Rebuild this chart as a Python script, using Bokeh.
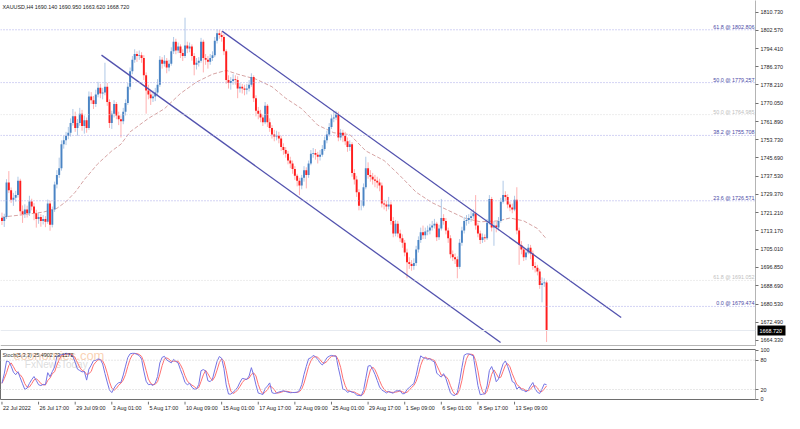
import numpy as np
import pandas as pd
from bokeh.plotting import figure
from bokeh.layouts import column
from bokeh.models import (Range1d, FixedTicker, PrintfTickFormatter, Span, ColumnDataSource,
                          LinearAxis, AllLabels)
from bokeh.core.properties import value
from bokeh.embed import file_html
from bokeh.resources import INLINE

# ---------------- data (XAUUSD H4) ----------------
first_open = 1719.0
closes = [
    1717.6, 1719.3, 1734.7, 1731.3, 1727.0, 1727.9, 1729.1, 1735.5, 1721.9, 1720.6,
    1722.7, 1721.0, 1726.2, 1724.0, 1721.0, 1718.5, 1719.3, 1717.6, 1718.5, 1717.2,
    1725.3, 1715.9, 1722.7, 1733.8, 1738.1, 1741.1, 1751.8, 1753.5, 1755.6, 1756.9,
    1761.2, 1764.2, 1759.0, 1761.2, 1765.4, 1759.9, 1762.5, 1759.0, 1773.1, 1771.4,
    1769.7, 1774.0, 1777.0, 1774.4, 1774.8, 1777.4, 1770.6, 1761.2, 1765.4, 1769.7,
    1764.6, 1762.9, 1762.0, 1766.3, 1770.2, 1777.4, 1784.3, 1789.4, 1792.0, 1791.1,
    1791.5, 1790.2, 1782.5, 1775.7, 1774.0, 1772.3, 1773.1, 1774.8, 1778.3, 1789.4,
    1787.7, 1789.0, 1786.0, 1787.7, 1793.2, 1797.5, 1793.6, 1795.4, 1792.4, 1791.1,
    1795.8, 1794.5, 1795.4, 1791.1, 1787.2, 1788.1, 1789.0, 1797.5, 1790.2, 1789.4,
    1788.5, 1790.2, 1791.5, 1797.9, 1801.3, 1800.5, 1799.6, 1793.2, 1780.4, 1779.1,
    1780.0, 1780.8, 1780.4, 1776.6, 1777.4, 1776.6, 1776.1, 1776.6, 1778.3, 1781.7,
    1772.3, 1766.7, 1765.4, 1763.7, 1761.6, 1768.9, 1761.6, 1759.0, 1756.1, 1755.2,
    1755.6, 1754.3, 1750.5, 1749.2, 1747.5, 1744.5, 1743.2, 1740.7, 1737.7, 1735.5,
    1733.4, 1736.8, 1740.2, 1738.1, 1743.2, 1747.5, 1747.9, 1747.1, 1746.2, 1747.1,
    1749.6, 1753.5, 1756.1, 1759.5, 1763.3, 1763.7, 1765.0, 1754.8, 1756.9, 1755.6,
    1753.1, 1750.5, 1751.8, 1739.0, 1736.0, 1730.4, 1724.4, 1724.4, 1732.6, 1741.1,
    1738.1, 1737.3, 1736.0, 1735.5, 1734.7, 1733.4, 1725.3, 1724.9, 1724.0, 1724.9,
    1717.6, 1712.0, 1716.3, 1712.0, 1709.9, 1707.8, 1703.5, 1699.2, 1698.4, 1697.5,
    1698.8, 1704.8, 1709.1, 1712.5, 1711.2, 1712.9, 1713.3, 1714.6, 1715.5, 1716.3,
    1710.3, 1714.2, 1718.9, 1717.6, 1713.3, 1709.9, 1702.7, 1701.4, 1700.5, 1697.1,
    1707.8, 1713.3, 1717.6, 1718.0, 1718.9, 1719.7, 1721.0, 1715.5, 1712.0, 1709.1,
    1710.3, 1709.9, 1716.8, 1727.4, 1714.6, 1715.5, 1714.6, 1717.6, 1726.1, 1729.1,
    1728.3, 1724.9, 1723.6, 1722.7, 1727.0, 1713.3, 1706.9, 1704.8, 1701.4, 1703.5,
    1705.6, 1703.1, 1697.5, 1696.7, 1695.0, 1689.0, 1689.8, 1690.14, 1668.72,
]
highs = [
    1721.3, 1720.8, 1736.2, 1739.8, 1732.5, 1730.1, 1731.0, 1737.3, 1736.4, 1724.5,
    1725.0, 1724.4, 1728.8, 1727.5, 1725.5, 1722.6, 1721.4, 1720.6, 1720.2, 1719.7,
    1727.1, 1726.6, 1724.0, 1735.1, 1740.2, 1745.8, 1753.5, 1755.6, 1757.3, 1759.5,
    1763.3, 1767.5, 1766.3, 1763.0, 1768.0, 1767.1, 1764.6, 1763.7, 1775.3, 1775.0,
    1773.3, 1776.1, 1779.6, 1778.7, 1776.9, 1788.1, 1779.1, 1771.8, 1766.7, 1771.4,
    1770.6, 1766.3, 1764.6, 1768.0, 1771.8, 1779.1, 1786.0, 1791.1, 1794.1, 1793.2,
    1793.6, 1792.8, 1791.5, 1783.8, 1778.3, 1776.1, 1775.7, 1776.9, 1780.8, 1791.1,
    1790.6, 1791.5, 1790.2, 1789.4, 1795.0, 1799.6, 1798.8, 1797.1, 1796.3, 1794.1,
    1808.2, 1797.5, 1797.1, 1796.3, 1792.4, 1790.2, 1790.6, 1799.2, 1798.4, 1792.0,
    1791.1, 1792.0, 1793.2, 1799.6, 1803.0, 1802.8, 1802.2, 1800.9, 1794.1, 1782.5,
    1781.7, 1783.0, 1782.5, 1782.1, 1779.1, 1778.7, 1778.3, 1778.7, 1780.4, 1783.4,
    1782.5, 1773.6, 1768.4, 1767.1, 1765.0, 1770.6, 1769.7, 1763.3, 1760.3, 1758.2,
    1757.8, 1757.3, 1755.6, 1752.2, 1750.5, 1748.8, 1746.2, 1744.5, 1742.0, 1738.6,
    1736.8, 1738.1, 1742.0, 1741.5, 1744.5, 1749.2, 1750.1, 1749.6, 1748.4, 1749.2,
    1751.4, 1755.2, 1757.8, 1761.2, 1765.0, 1766.3, 1766.7, 1766.3, 1758.6, 1758.2,
    1757.3, 1754.8, 1753.5, 1752.7, 1740.7, 1737.7, 1731.7, 1726.6, 1734.3, 1746.2,
    1743.7, 1740.2, 1739.0, 1738.1, 1737.3, 1736.4, 1734.7, 1727.0, 1726.6, 1728.3,
    1726.2, 1719.3, 1718.0, 1717.6, 1713.7, 1711.6, 1709.1, 1705.2, 1701.4, 1700.1,
    1700.9, 1706.5, 1710.7, 1714.6, 1715.5, 1714.6, 1715.5, 1716.3, 1717.6, 1718.5,
    1717.2, 1715.9, 1727.4, 1720.6, 1718.9, 1714.6, 1711.2, 1704.4, 1703.1, 1701.8,
    1709.5, 1715.0, 1719.3, 1720.2, 1720.6, 1721.9, 1722.7, 1729.1, 1716.8, 1713.3,
    1712.0, 1711.6, 1718.5, 1729.1, 1728.3, 1717.6, 1717.2, 1719.3, 1727.9, 1735.5,
    1730.8, 1729.5, 1726.2, 1725.3, 1728.8, 1732.6, 1714.6, 1708.6, 1706.1, 1705.2,
    1707.3, 1706.9, 1704.4, 1699.2, 1698.0, 1696.2, 1692.4, 1692.0, 1690.95,
]
lows = [
    1715.8, 1714.9, 1718.4, 1730.0, 1725.6, 1724.3, 1726.2, 1728.0, 1720.1, 1716.7,
    1718.9, 1719.1, 1719.8, 1722.3, 1717.9, 1714.6, 1716.3, 1715.0, 1716.0, 1714.8,
    1716.3, 1713.2, 1714.7, 1721.6, 1732.1, 1736.8, 1740.0, 1749.8, 1751.4, 1754.0,
    1755.2, 1760.1, 1757.3, 1755.6, 1760.0, 1757.8, 1756.5, 1756.9, 1758.2, 1769.7,
    1767.5, 1768.4, 1772.7, 1772.3, 1771.8, 1773.6, 1768.9, 1759.0, 1758.6, 1763.7,
    1762.9, 1760.3, 1754.8, 1760.7, 1764.6, 1769.3, 1776.1, 1783.0, 1788.1, 1788.5,
    1789.4, 1788.1, 1780.4, 1765.4, 1771.8, 1769.3, 1770.6, 1771.0, 1773.6, 1777.4,
    1785.5, 1786.4, 1783.4, 1784.3, 1786.8, 1792.0, 1791.9, 1792.4, 1790.2, 1788.9,
    1790.2, 1792.4, 1792.8, 1789.0, 1782.5, 1785.1, 1786.4, 1788.1, 1783.8, 1787.2,
    1785.5, 1787.2, 1788.9, 1790.6, 1796.7, 1798.8, 1797.5, 1791.5, 1778.7, 1776.6,
    1776.1, 1778.3, 1778.3, 1772.3, 1774.8, 1774.4, 1773.6, 1774.0, 1775.3, 1777.4,
    1770.6, 1764.2, 1762.9, 1761.6, 1759.9, 1760.7, 1759.5, 1757.3, 1754.3, 1753.1,
    1753.5, 1752.2, 1748.8, 1747.1, 1745.8, 1742.8, 1741.1, 1738.6, 1735.9, 1733.0,
    1729.1, 1731.7, 1735.1, 1732.1, 1736.8, 1742.4, 1745.8, 1744.9, 1743.2, 1744.5,
    1746.2, 1748.8, 1752.2, 1755.2, 1758.6, 1761.6, 1762.5, 1753.1, 1753.5, 1752.7,
    1751.4, 1748.4, 1748.8, 1737.3, 1733.8, 1728.3, 1722.3, 1722.3, 1723.6, 1731.7,
    1736.4, 1735.1, 1733.8, 1732.6, 1732.1, 1730.8, 1723.6, 1722.7, 1721.9, 1722.7,
    1715.9, 1710.3, 1710.7, 1710.3, 1708.2, 1705.6, 1701.8, 1692.0, 1696.2, 1695.4,
    1695.8, 1697.5, 1703.5, 1707.8, 1709.5, 1709.5, 1711.2, 1711.6, 1713.3, 1714.2,
    1708.6, 1709.1, 1713.3, 1715.9, 1711.6, 1707.8, 1700.9, 1699.7, 1698.4, 1692.0,
    1696.2, 1706.5, 1712.0, 1715.5, 1716.3, 1717.2, 1718.5, 1713.7, 1710.3, 1707.3,
    1707.8, 1708.2, 1709.1, 1715.9, 1712.9, 1706.5, 1712.5, 1713.3, 1716.8, 1725.3,
    1726.6, 1723.2, 1721.9, 1721.0, 1721.9, 1711.6, 1698.0, 1702.7, 1699.7, 1700.1,
    1702.7, 1700.5, 1695.8, 1694.6, 1693.3, 1687.3, 1681.3, 1688.2, 1663.62,
]
opens = [first_open] + closes[:-1]

# moving average (dashed line) read at selected bars
ma_bars = [0, 8, 18, 24, 28, 32, 36, 42, 48, 52, 56, 64, 71, 78, 85, 92, 98, 103, 111, 118,
           124, 131, 138, 145, 152, 159, 167, 174, 181, 188, 195, 202, 209, 217, 222, 228, 234, 238]
ma_vals = [1719.3, 1720.2, 1721.5, 1723.2, 1726.2, 1730.4, 1736.0, 1743.2, 1748.8, 1751.8,
           1757.3, 1763.3, 1767.6, 1774.4, 1779.5, 1783.0, 1784.7, 1783.0, 1780.8, 1777.4,
           1772.3, 1767.6, 1760.3, 1756.9, 1756.1, 1748.8, 1744.5, 1737.7, 1730.4, 1725.7,
           1722.3, 1718.9, 1717.2, 1717.6, 1718.9, 1717.6, 1714.2, 1709.5]

# descending channel (bar index, price)
chan_x0 = [96.2, 43.5]
chan_y0 = [1802.2, 1791.5]
chan_x1 = [270.6, 217.9]
chan_y1 = [1674.5, 1663.4]

# Fibonacci levels
fib_levels = [1802.806, 1779.257, 1764.985, 1755.708, 1726.571, 1691.052, 1679.474]
fib_labels = ["61.8 @ 1802.806", "50.0 @ 1779.257", "50.0 @ 1764.985", "38.2 @ 1755.708",
              "23.6 @ 1726.571", "61.8 @ 1691.052", "0.0 @ 1679.474"]
fib_faint = [False, False, True, False, False, True, False]

price_ticks = [1810.730, 1802.570, 1794.410, 1786.370, 1778.210, 1770.050, 1761.890,
               1753.730, 1745.690, 1737.530, 1729.370, 1721.210, 1713.170, 1705.010,
               1696.850, 1688.690, 1680.530, 1672.490, 1664.330]
stoch_ticks = [0, 20, 80, 100]
date_bars = [0, 16, 32, 48, 64, 80, 96, 112, 128, 144, 160, 176, 192, 208, 224]
date_labels = ["22 Jul 2022", "26 Jul 17:00", "29 Jul 09:00", "3 Aug 01:00", "5 Aug 17:00",
               "10 Aug 09:00", "15 Aug 01:00", "17 Aug 17:00", "22 Aug 09:00", "25 Aug 01:00",
               "29 Aug 17:00", "1 Sep 09:00", "6 Sep 01:00", "8 Sep 17:00", "13 Sep 09:00"]
header = "XAUUSD,H4  1690.140 1690.950 1663.620 1668.720"
stoch_header = "Stoch(5,3,3) 25.4902 23.1172"

assert len(closes) == len(highs) == len(lows)

# ---------------- derived ----------------
n = len(closes)
idx = np.arange(n)
o = np.array(opens); c = np.array(closes); h = np.array(highs); l = np.array(lows)
up = c >= o
BULL, BEAR = "#4A84C4", "#FF1E1E"
BULL_W, BEAR_W = "#AFC8E6", "#FFB0B0"

# Stochastic(5,3,3) computed from the candles
hs_, ls_, cs_ = pd.Series(h), pd.Series(l), pd.Series(c)
hh = hs_.rolling(5, min_periods=1).max()
ll = ls_.rolling(5, min_periods=1).min()
num = (cs_ - ll).rolling(3, min_periods=1).sum()
den = (hh - ll).rolling(3, min_periods=1).sum()
k_line = (100 * num / den).values
d_line = pd.Series(k_line).rolling(3, min_periods=1).mean().values

FONT = value("Liberation Sans")
FS = "5.4px"
W = 755
X_LO, X_HI = -0.64, 329.3
Y_LO, Y_HI = 1661.6, 1815.86
xr = Range1d(X_LO, X_HI)


def style_axis(a):
    a.major_tick_out = 3
    a.major_tick_in = 0
    a.minor_tick_line_color = None
    a.axis_line_color = "#B4B4B4"
    a.major_tick_line_color = "#707070"
    a.major_label_text_font = "Liberation Sans"
    a.major_label_text_font_size = FS
    a.major_label_text_color = "#222222"
    a.major_label_standoff = 2
    a.major_label_policy = AllLabels()


# ---------------- main price panel ----------------
main = figure(frame_width=W, frame_height=346, x_range=xr, y_range=Range1d(Y_LO, Y_HI),
              output_backend="svg", toolbar_location=None, y_axis_location="right",
              x_axis_location=None, min_border=0, outline_line_color=None,
              background_fill_color="white", border_fill_color="white")
main.grid.visible = False
ax = main.yaxis[0]
ax.ticker = FixedTicker(ticks=price_ticks)
ax.formatter = PrintfTickFormatter(format="%.3f")
style_axis(ax)

# current price marker on the price scale: a second scale stacked after the first,
# whose single tick is drawn inwards as a black box under a white label
cur = LinearAxis(ticker=FixedTicker(ticks=[closes[-1]]),
                 formatter=PrintfTickFormatter(format="%.3f   "))
cur.axis_line_color = None
cur.minor_tick_line_color = None
cur.major_tick_out = 0
cur.major_tick_in = 28
cur.major_tick_line_width = 10
cur.major_tick_line_color = "black"
cur.major_tick_line_cap = "butt"
cur.major_label_standoff = -26
cur.major_label_text_color = "white"
cur.major_label_text_font = "Liberation Sans"
cur.major_label_text_font_size = FS
cur.major_label_policy = AllLabels()
main.add_layout(cur, "right")

main.add_layout(Span(location=Y_LO, dimension="width", line_color="#6E6E6E", line_width=2))

for lev, faint in zip(fib_levels, fib_faint):
    main.add_layout(Span(location=lev, dimension="width",
                         line_color="#DADADA" if faint else "#A8A8E8",
                         line_dash="1 2", line_width=1))
main.add_layout(Span(location=closes[-1], dimension="width", line_color="#E6EAF0", line_width=1))

main.text(x=[X_HI - 0.4] * len(fib_levels), y=fib_levels, text=fib_labels,
          text_color=["#C0C0C0" if f else "#4A4AA6" for f in fib_faint],
          text_align="right", text_baseline="bottom", text_font=FONT,
          text_font_size=value(FS))

main.line(ma_bars, ma_vals, line_color="#D6A4A4", line_dash="4 2", line_width=1)

src = ColumnDataSource(dict(
    x=idx, high=h, low=l, top=np.maximum(o, c), bottom=np.minimum(o, c),
    wick=[BULL_W if u else BEAR_W for u in up], body=[BULL if u else BEAR for u in up]))
main.segment(x0="x", y0="low", x1="x", y1="high", line_color="wick", line_width=1, source=src)
main.vbar(x="x", width=0.85, top="top", bottom="bottom", fill_color="body",
          line_color=None, source=src)

main.segment(x0=chan_x0, y0=chan_y0, x1=chan_x1, y1=chan_y1,
             line_color="#5252AE", line_width=1.3)

main.text(x=[X_LO], y=[Y_HI], text=[header], text_align="left", text_baseline="top",
          text_font=FONT, text_font_size=value(FS), text_color="#222222",
          x_offset=2, y_offset=3)

# ---------------- stochastic panel ----------------
st = figure(frame_width=W, frame_height=50, x_range=xr, y_range=Range1d(-0.4, 101.9),
            output_backend="svg", toolbar_location=None, y_axis_location="right",
            x_axis_location=None, min_border=0, min_border_top=3, min_border_bottom=2,
            outline_line_color="#6E6E6E", background_fill_color="white",
            border_fill_color="white")
st.grid.visible = False
sax = st.yaxis[0]
sax.ticker = FixedTicker(ticks=stoch_ticks)
sax.formatter = PrintfTickFormatter(format="%d")
style_axis(sax)
for lev in (20, 80):
    st.add_layout(Span(location=lev, dimension="width", line_color="#D0D0D0",
                       line_dash="1 2", line_width=1))

st.text(x=[5], y=[101.9], text=["economies.com"], text_align="left", text_baseline="top",
        text_font=value("Liberation Sans"), text_font_size=value("13px"),
        text_color="#F5A468", text_alpha=0.5, y_offset=-2)
st.text(x=[10], y=[101.9], text=["FxNewsToday"], text_align="left", text_baseline="top",
        text_font=value("Liberation Sans"), text_font_size=value("10px"),
        text_color="#D4D4D4", text_alpha=0.8, y_offset=9)

st.line(idx, d_line, line_color="#FF7070", line_width=1)
st.line(idx, k_line, line_color="#7474E4", line_width=1)

st.text(x=[X_LO], y=[101.9], text=[stoch_header], text_align="left", text_baseline="top",
        text_font=FONT, text_font_size=value(FS), text_color="#333333",
        x_offset=2, y_offset=2)

# ---------------- time labels ----------------
dt = figure(frame_width=W, frame_height=12, x_range=xr, y_range=Range1d(0, 1),
            output_backend="svg", toolbar_location=None, x_axis_location=None,
            y_axis_location=None, min_border=0, outline_line_color=None,
            background_fill_color="white", border_fill_color="white")
dt.grid.visible = False
dt.segment(x0=date_bars, y0=[1.0] * len(date_bars), x1=date_bars, y1=[0.75] * len(date_bars),
           line_color="#707070", line_width=1)
dt.text(x=date_bars, y=[0.45] * len(date_bars), text=date_labels, text_align="left",
        text_baseline="middle", text_font=FONT, text_font_size=value(FS),
        text_color="#222222", x_offset=1)

layout = column(main, st, dt)
open("out.html", "w").write(file_html(layout, INLINE))
